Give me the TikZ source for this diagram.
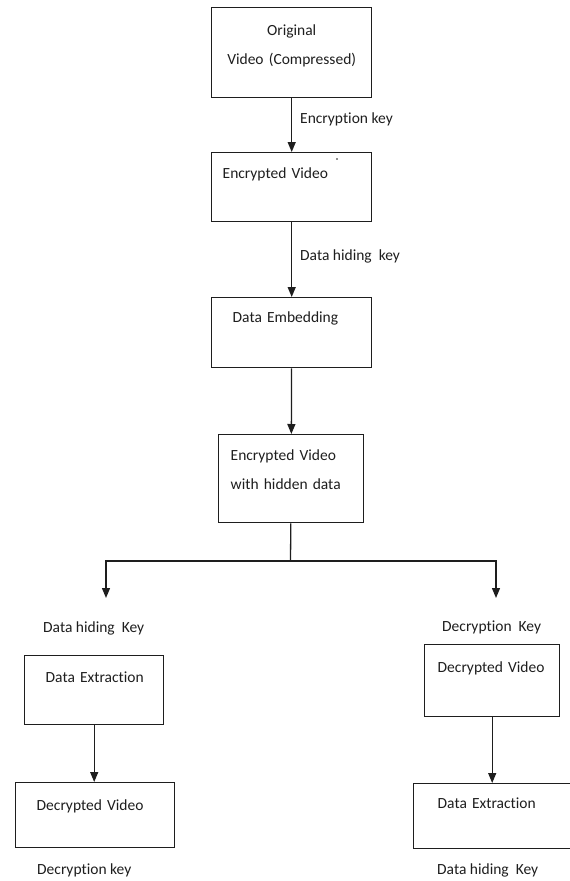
\documentclass[tikz,border=0pt]{standalone}
\usepackage{fontspec}
\setmainfont[Ligatures=NoCommon]{Carlito}
\usetikzlibrary{arrows.meta,positioning}
\definecolor{inkdark}{HTML}{1E1E1E}
\tikzset{
  box/.style={draw=inkdark,line width=1.4pt,anchor=north west,align=left,inner ysep=0pt,text=inkdark,font=\fontsize{15.5}{29}\selectfont},
  keytxt/.style={anchor=base west,inner sep=0pt,text=inkdark,font=\fontsize{15.5}{18}\selectfont},
  ar/.style={-{Triangle[length=10pt,width=8pt]},draw=inkdark,line width=1.3pt},
  ln/.style={draw=inkdark,line width=1.3pt},
}

\begin{document}
\begin{tikzpicture}[x=1pt,y=-1pt]
  \useasboundingbox (0,0) rectangle (570,881);
  \clip (0,0) rectangle (570,881);

  % main chain
  \node[box,inner xsep=0pt,text width=160pt,align=center,text height=27.5pt,text depth=62.5pt] (orig) at (211,7) {Original\\Video (Compressed)};
  \node[box,inner xsep=11pt,text width=138pt,text height=25.5pt,text depth=43.5pt] (enc) at (211,152) {Encrypted Video};
  \node[box,inner xsep=21pt,text width=118pt,text height=24.5pt,text depth=45.5pt] (emb) at (211,297) {Data Embedding};
  \node[box,inner xsep=12pt,text width=121pt,text height=25.5pt,text depth=62.5pt] (hid) at (218,434) {Encrypted Video\\with hidden data};

  % two branches
  \node[box,inner xsep=21pt,text width=97pt,text height=26.5pt,text depth=42.5pt] (extL) at (24,655) {\mbox{Data Extraction}};
  \node[box,inner xsep=21pt,text width=117pt,text height=27.5pt,text depth=37.5pt] (decL) at (15,782) {Decrypted Video};
  \node[box,inner xsep=13pt,text width=109pt,text height=27.5pt,text depth=44.5pt] (decR) at (424,644) {Decrypted Video};
  \node[box,inner xsep=24pt,text width=114pt,text height=24.5pt,text depth=40.5pt] (extR) at (413,783) {\mbox{Data Extraction}};

  % keys
  \node[keytxt] (keyEnc) at (300,123) {Encryption key};
  \node[keytxt] (keyHide) at (300,260) {Data hiding~ key};
  \node[keytxt] (keyHideL) at (43,632.5) {Data hiding~ Key};
  \node[keytxt] (keyDecR) at (442,631.5) {Decryption~ Key};
  \node[keytxt] (keyDecL) at (37,874.5) {Decryption key};
  \node[keytxt] (keyHideR) at (437,874.5) {Data hiding~ Key};

  \fill[inkdark] (337,159) circle (0.9pt);

  \coordinate (fork) at (290.5,561);
  \coordinate (tipL) at (106,598);
  \coordinate (tipR) at (496,598);

  \draw[ar] (orig) -- (enc);
  \draw[ar] (enc) -- (emb);
  \draw[ar] (emb) -- (hid);
  \draw[ln] (hid) -- (fork);
  \draw[ar] (fork) -| (tipL);
  \draw[ar] (fork) -| (tipR);
  \draw[ar] (extL) -- (extL |- decL.north);
  \draw[ar] (decR) -- (decR |- extR.north);
\end{tikzpicture}
\end{document}
